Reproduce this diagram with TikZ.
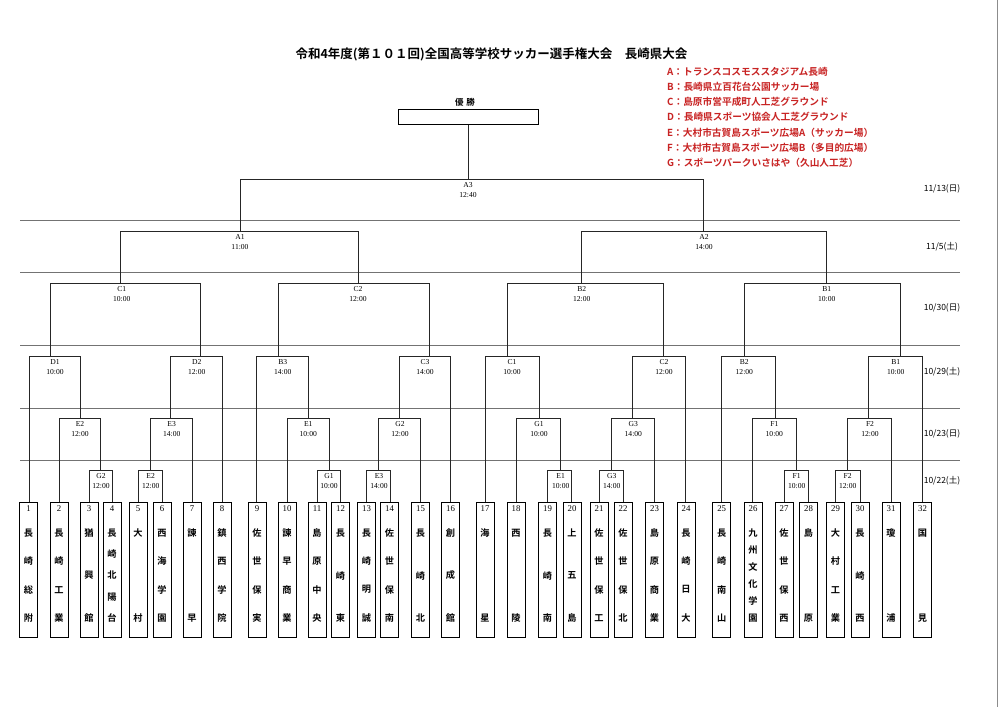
\documentclass[tikz,border=0pt]{standalone}
\usepackage{fontspec}
\setmainfont{Liberation Serif}
\newfontfamily\jp{Noto Sans CJK JP}
\newfontfamily\jpb{Noto Sans CJK JP Bold}
\definecolor{legred}{RGB}{200,35,35}
\newcommand\mbar[7]{%
  \coordinate (#1L) at (#2,#4);
  \coordinate (#1R) at (#3,#4);
  \draw[bracket] (#1L) -- (#1R);
  \node[mlabel] (#1a) at (#7,{#4+6}) {#5};
  \node[mlabel] (#1b) at (#7,{#4+16}) {#6};
}
\newcommand\legto[2]{\draw[bracket] (#1) -- (#1 |- #2);}
\newcommand\teambox[4]{%
  \node[teambox] (t#1) at (#2,502) {};
  \node[numtext] (t#1n) at (#2,509) {#1};
  \foreach \c [count=\i] in {#4} {\node[nametext] (t#1c\i) at (#2,{533+(\i-1)*85/(#3-1)}) {\c};}
}
\begin{document}
\begin{tikzpicture}[x=1pt,y=-1pt,
  bracket/.style={line width=0.8pt, black!85},
  sepline/.style={line width=0.7pt, black!55},
  mlabel/.style={font=\fontsize{7.6}{8}\selectfont, inner sep=0pt},
  teambox/.style={draw, line width=1pt, minimum width=18pt, minimum height=134.7pt, inner sep=0pt, anchor=north},
  numtext/.style={font=\fontsize{8.8}{9}\selectfont, inner sep=0pt},
  nametext/.style={font=\jpb\fontsize{9.2}{9.5}\selectfont, inner sep=0pt},
  datetext/.style={font=\jp\fontsize{8.5}{9}\selectfont, inner sep=0pt},
  legtext/.style={font=\jpb\fontsize{9.7}{10}\selectfont, text=legred, anchor=west, inner sep=0pt},
  titletext/.style={font=\jpb\fontsize{12.5}{13}\selectfont, inner sep=0pt},
  winbox/.style={draw, line width=1pt, minimum width=140pt, minimum height=15pt, inner sep=0pt}
]
\useasboundingbox (0,0) rectangle (1000,707);
\fill[white] (0,0) rectangle (1000,707);
\draw[black!45, line width=0.6pt] (997,0) -- (997,707);

% title and legend
\node[titletext] (title) at (491.5,54) {令和4年度(第１０１回)全国高等学校サッカー選手権大会　長崎県大会};
\node[legtext] (legA) at (667,71.5) {A：トランスコスモススタジアム長崎};
\node[legtext] (legB) at (667,86.7) {B：長崎県立百花台公園サッカー場};
\node[legtext] (legC) at (667,101.9) {C：島原市営平成町人工芝グラウンド};
\node[legtext] (legD) at (667,117.1) {D：長崎県スポーツ協会人工芝グラウンド};
\node[legtext] (legE) at (667,132.3) {E：大村市古賀島スポーツ広場A（サッカー場）};
\node[legtext] (legF) at (667,147.5) {F：大村市古賀島スポーツ広場B（多目的広場）};
\node[legtext] (legG) at (667,162.7) {G：スポーツパークいさはや（久山人工芝）};

% round separators
\foreach \yy in {220,272.7,345.7,408.3,460} \draw[sepline] (20,\yy) -- (960,\yy);

% dates
\node[datetext] (d1) at (942,189) {11/13(日)};
\node[datetext] (d2) at (942,247) {11/5(土)};
\node[datetext] (d3) at (942,308) {10/30(日)};
\node[datetext] (d4) at (942,372) {10/29(土)};
\node[datetext] (d5) at (942,434) {10/23(日)};
\node[datetext] (d6) at (942,481) {10/22(土)};

% winner
\node[font=\jpb\fontsize{8.5}{9}\selectfont, inner sep=0pt] (wint) at (465,102) {優\hspace{3pt}勝};
\node[winbox] (win) at (468,116.5) {};

% match bars
\mbar{f}{240}{703.3}{179}{A3}{12:40}{468}
\mbar{sa}{120.7}{358.3}{231}{A1}{11:00}{240}
\mbar{sb}{581}{826}{231}{A2}{14:00}{704}
\mbar{qa}{50}{200.7}{283.3}{C1}{10:00}{121.7}
\mbar{qb}{278.3}{429}{283.3}{C2}{12:00}{358}
\mbar{qc}{507.3}{663.3}{283.3}{B2}{12:00}{581.7}
\mbar{qd}{744.3}{900}{283.3}{B1}{10:00}{826.7}
\mbar{ra}{29.3}{80.7}{356}{D1}{10:00}{55}
\mbar{rb}{170.7}{222.3}{356}{D2}{12:00}{196.7}
\mbar{rc}{256.7}{308.3}{356}{B3}{14:00}{282.7}
\mbar{rd}{399}{450}{356}{C3}{14:00}{425}
\mbar{re}{485}{539}{356}{C1}{10:00}{512}
\mbar{rf}{632.7}{685.7}{356}{C2}{12:00}{664}
\mbar{rg}{721.7}{775.3}{356}{B2}{12:00}{744.3}
\mbar{rh}{868.3}{922.7}{356}{B1}{10:00}{895.7}
\mbar{ua}{59}{100.7}{418.3}{E2}{12:00}{80}
\mbar{ub}{150.3}{192.3}{418.3}{E3}{14:00}{171.7}
\mbar{uc}{287.3}{329}{418.3}{E1}{10:00}{308.3}
\mbar{ud}{378.3}{420}{418.3}{G2}{12:00}{400}
\mbar{ue}{516.7}{560}{418.3}{G1}{10:00}{539}
\mbar{uf}{611}{654.3}{418.3}{G3}{14:00}{633.3}
\mbar{ug}{752.7}{796}{418.3}{F1}{10:00}{774.3}
\mbar{uh}{847.7}{891}{418.3}{F2}{12:00}{870}
\mbar{va}{89}{112.3}{470}{G2}{12:00}{101}
\mbar{vb}{138.3}{162.3}{470}{E2}{12:00}{150.7}
\mbar{vc}{317.3}{340.7}{470}{G1}{10:00}{329}
\mbar{vd}{366.7}{390.7}{470}{E3}{14:00}{379}
\mbar{ve}{547.7}{571.7}{470}{E1}{10:00}{560.7}
\mbar{vf}{599}{623.3}{470}{G3}{14:00}{611.7}
\mbar{vg}{784}{808.3}{470}{F1}{10:00}{796.7}
\mbar{vh}{835}{860}{470}{F2}{12:00}{847.7}

% teams
\teambox{1}{28.5}{4}{長,崎,総,附}
\teambox{2}{59}{4}{長,崎,工,業}
\teambox{3}{89}{3}{猶,興,館}
\teambox{4}{112}{5}{長,崎,北,陽,台}
\teambox{5}{138}{2}{大,村}
\teambox{6}{162}{4}{西,海,学,園}
\teambox{7}{192}{2}{諫,早}
\teambox{8}{222}{4}{鎮,西,学,院}
\teambox{9}{257}{4}{佐,世,保,実}
\teambox{10}{287}{4}{諫,早,商,業}
\teambox{11}{317}{4}{島,原,中,央}
\teambox{12}{340.5}{3}{長,崎,東}
\teambox{13}{366.5}{4}{長,崎,明,誠}
\teambox{14}{389.5}{4}{佐,世,保,南}
\teambox{15}{420.5}{3}{長,崎,北}
\teambox{16}{450.5}{3}{創,成,館}
\teambox{17}{485}{2}{海,星}
\teambox{18}{516}{2}{西,陵}
\teambox{19}{547.5}{3}{長,崎,南}
\teambox{20}{572}{3}{上,五,島}
\teambox{21}{599}{4}{佐,世,保,工}
\teambox{22}{623}{4}{佐,世,保,北}
\teambox{23}{654.5}{4}{島,原,商,業}
\teambox{24}{686}{4}{長,崎,日,大}
\teambox{25}{721.7}{4}{長,崎,南,山}
\teambox{26}{753}{6}{九,州,文,化,学,園}
\teambox{27}{784}{4}{佐,世,保,西}
\teambox{28}{808.5}{2}{島,原}
\teambox{29}{835.5}{4}{大,村,工,業}
\teambox{30}{860}{3}{長,崎,西}
\teambox{31}{891}{2}{瓊,浦}
\teambox{32}{922.5}{2}{国,見}

% connectors
\draw[bracket] (win.south) -- (win.south |- fL);
\legto{fL}{saL} \legto{fR}{sbL}
\legto{saL}{qaL} \legto{saR}{qbL}
\legto{sbL}{qcL} \legto{sbR}{qdL}
\legto{qaL}{raL} \legto{qaR}{rbL}
\legto{qbL}{rcL} \legto{qbR}{rdL}
\legto{qcL}{reL} \legto{qcR}{rfL}
\legto{qdL}{rgL} \legto{qdR}{rhL}
\legto{raL}{t1.north} \legto{raR}{uaL}
\legto{rbL}{ubL} \legto{rbR}{t8.north}
\legto{rcL}{t9.north} \legto{rcR}{ucL}
\legto{rdL}{udL} \legto{rdR}{t16.north}
\legto{reL}{t17.north} \legto{reR}{ueL}
\legto{rfL}{ufL} \legto{rfR}{t24.north}
\legto{rgL}{t25.north} \legto{rgR}{ugL}
\legto{rhL}{uhL} \legto{rhR}{t32.north}
\legto{uaL}{t2.north} \legto{uaR}{vaL}
\legto{ubL}{vbL} \legto{ubR}{t7.north}
\legto{ucL}{t10.north} \legto{ucR}{vcL}
\legto{udL}{vdL} \legto{udR}{t15.north}
\legto{ueL}{t18.north} \legto{ueR}{veL}
\legto{ufL}{vfL} \legto{ufR}{t23.north}
\legto{ugL}{t26.north} \legto{ugR}{vgL}
\legto{uhL}{vhL} \legto{uhR}{t31.north}
\legto{vaL}{t3.north} \legto{vaR}{t4.north}
\legto{vbL}{t5.north} \legto{vbR}{t6.north}
\legto{vcL}{t11.north} \legto{vcR}{t12.north}
\legto{vdL}{t13.north} \legto{vdR}{t14.north}
\legto{veL}{t19.north} \legto{veR}{t20.north}
\legto{vfL}{t21.north} \legto{vfR}{t22.north}
\legto{vgL}{t27.north} \legto{vgR}{t28.north}
\legto{vhL}{t29.north} \legto{vhR}{t30.north}
\end{tikzpicture}
\end{document}
